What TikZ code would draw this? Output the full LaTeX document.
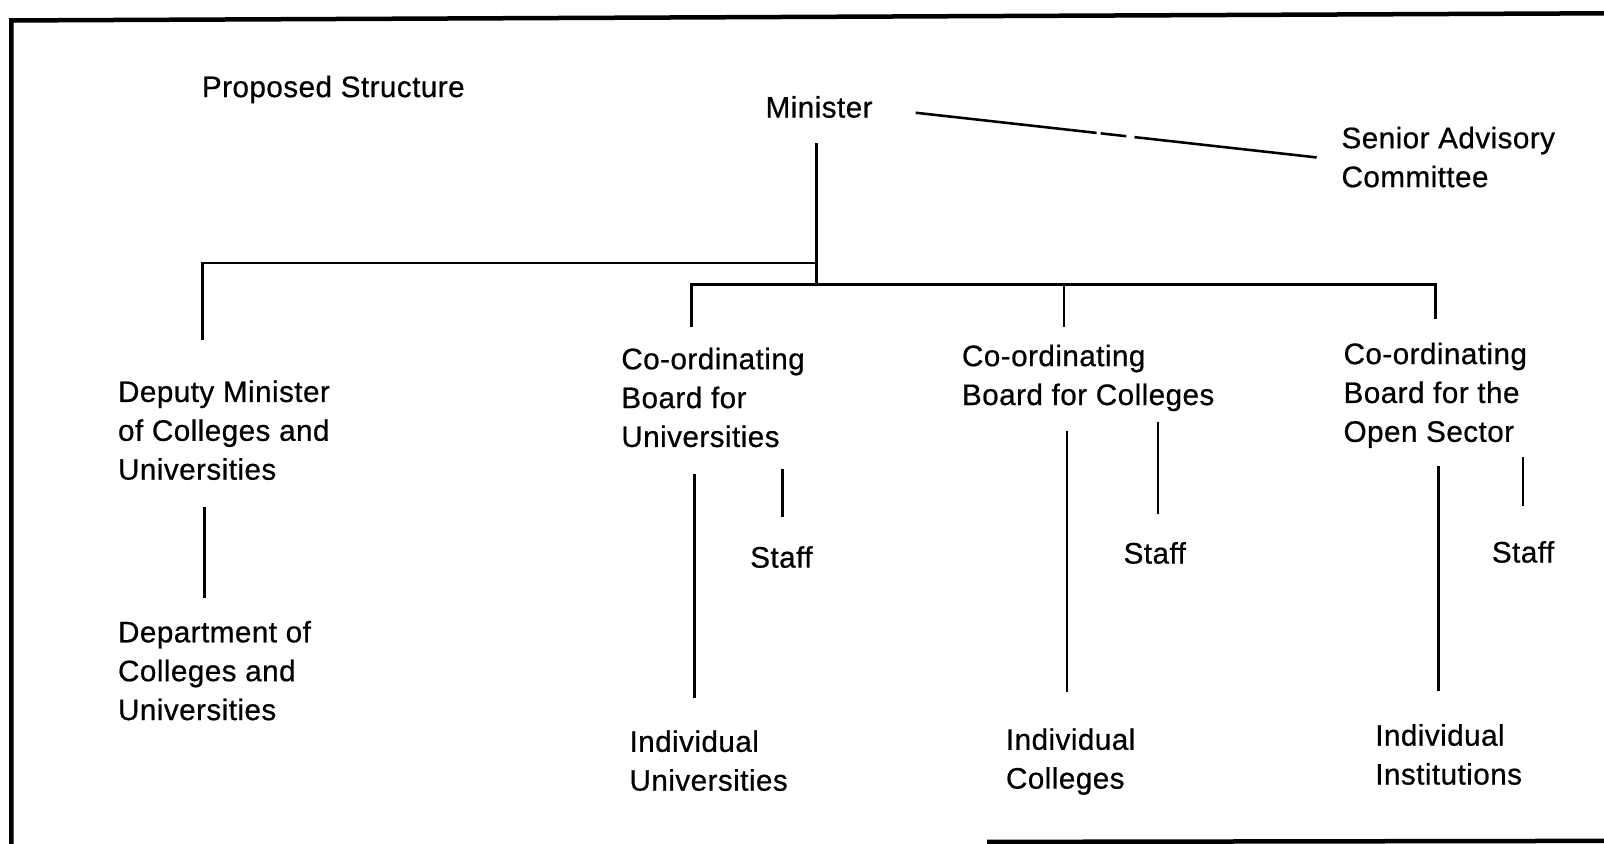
\documentclass[tikz,border=0pt]{standalone}
\usepackage{fontspec}
\setmainfont{Liberation Sans}[FakeBold=0.6,LetterSpace=1.5]
\tikzset{every picture/.style={x=0.5pt,y=-0.5pt}}
\tikzset{txt/.style={anchor=north west,align=left,inner sep=0pt,font=\fontsize{14.5}{19}\selectfont}}
\tikzset{link/.style={line width=1.25pt}}
\tikzset{frame/.style={line width=2.2pt}}
\tikzset{advice/.style={line width=1.25pt,dash pattern=on 89pt off 2pt on 12.6pt off 4pt on 200pt}}

\begin{document}
\begin{tikzpicture}
\useasboundingbox (0,0) rectangle (1568,825);
\draw [frame] (11,825) -- (11,20) -- (1568,13);
\draw [frame] (965,823) -- (1568,822);

\node [txt] (title) at (197,73.5) {Proposed Structure};
\node [txt] (min) at (748,93.5) {Minister};
\node [txt] (sac) at (1311,123.5) {Senior Advisory\\Committee};

\node [txt] (dep) at (115,371.5) {Deputy Minister\\of Colleges and\\Universities};
\node [txt] (dept) at (115,606.5) {Department of\\Colleges and\\Universities};

\node [txt] (cbu) at (607,339.5) {Co-ordinating\\Board for\\Universities};
\node [txt] (cbc) at (940,336.5) {Co-ordinating\\Board for Colleges};
\node [txt] (cbo) at (1313,334.5) {Co-ordinating\\Board for the\\Open Sector};

\node [txt] (su) at (733,533.5) {Staff};
\node [txt] (sc) at (1098,529.5) {Staff};
\node [txt] (so) at (1458,528.5) {Staff};

\node [txt] (iu) at (615,713.5) {Individual\\Universities};
\node [txt] (ic) at (983,711.5) {Individual\\Colleges};
\node [txt] (ii) at (1344,707.5) {Individual\\Institutions};

\coordinate (lj) at (798,257);
\coordinate (mj) at (798,278);
\coordinate (cj) at (1040,278);

\draw [advice,shorten <=21pt,shorten >=12pt] ([yshift=-0.5pt]min.east) -- ([yshift=-1.5pt]sac.west);

\draw [link,shorten <=12.25pt] (min.south -| 798,0) -- (mj);
\draw [link,shorten >=19.75pt] (lj) -| (dep.north -| 198,0);
\draw [link,shorten <=9.75pt,shorten >=11.25pt] (cbu.north -| 676,0) |- (cj) -| (cbo.north -| 1403,0);
\draw [link,shorten >=8.25pt] (cj) -- (cbc.north -| cj);

\draw [link,shorten <=13.25pt,shorten >=10.75pt] (dep.south -| 200,0) -- (dept.north -| 200,0);

\draw [link,shorten <=12.75pt,shorten >=15.75pt] (cbu.south -| 679,0) -- (iu.north -| 679,0);
\draw [link,shorten <=10.25pt,shorten >=14.25pt] (cbu.south -| 765,0) -- (su.north -| 765,0);

\draw [link,shorten <=9.25pt,shorten >=17.75pt] (cbc.south -| 1043,0) -- (ic.north -| 1043,0);
\draw [link,shorten <=5.25pt,shorten >=13.75pt] (cbc.south -| 1132,0) -- (sc.north -| 1132,0);

\draw [link,shorten <=8.75pt,shorten >=16.25pt] (cbo.south -| 1406,0) -- (ii.north -| 1406,0);
\draw [link,shorten <=4.25pt,shorten >=16.75pt] (cbo.south -| 1489,0) -- (so.north -| 1489,0);
\end{tikzpicture}
\end{document}
